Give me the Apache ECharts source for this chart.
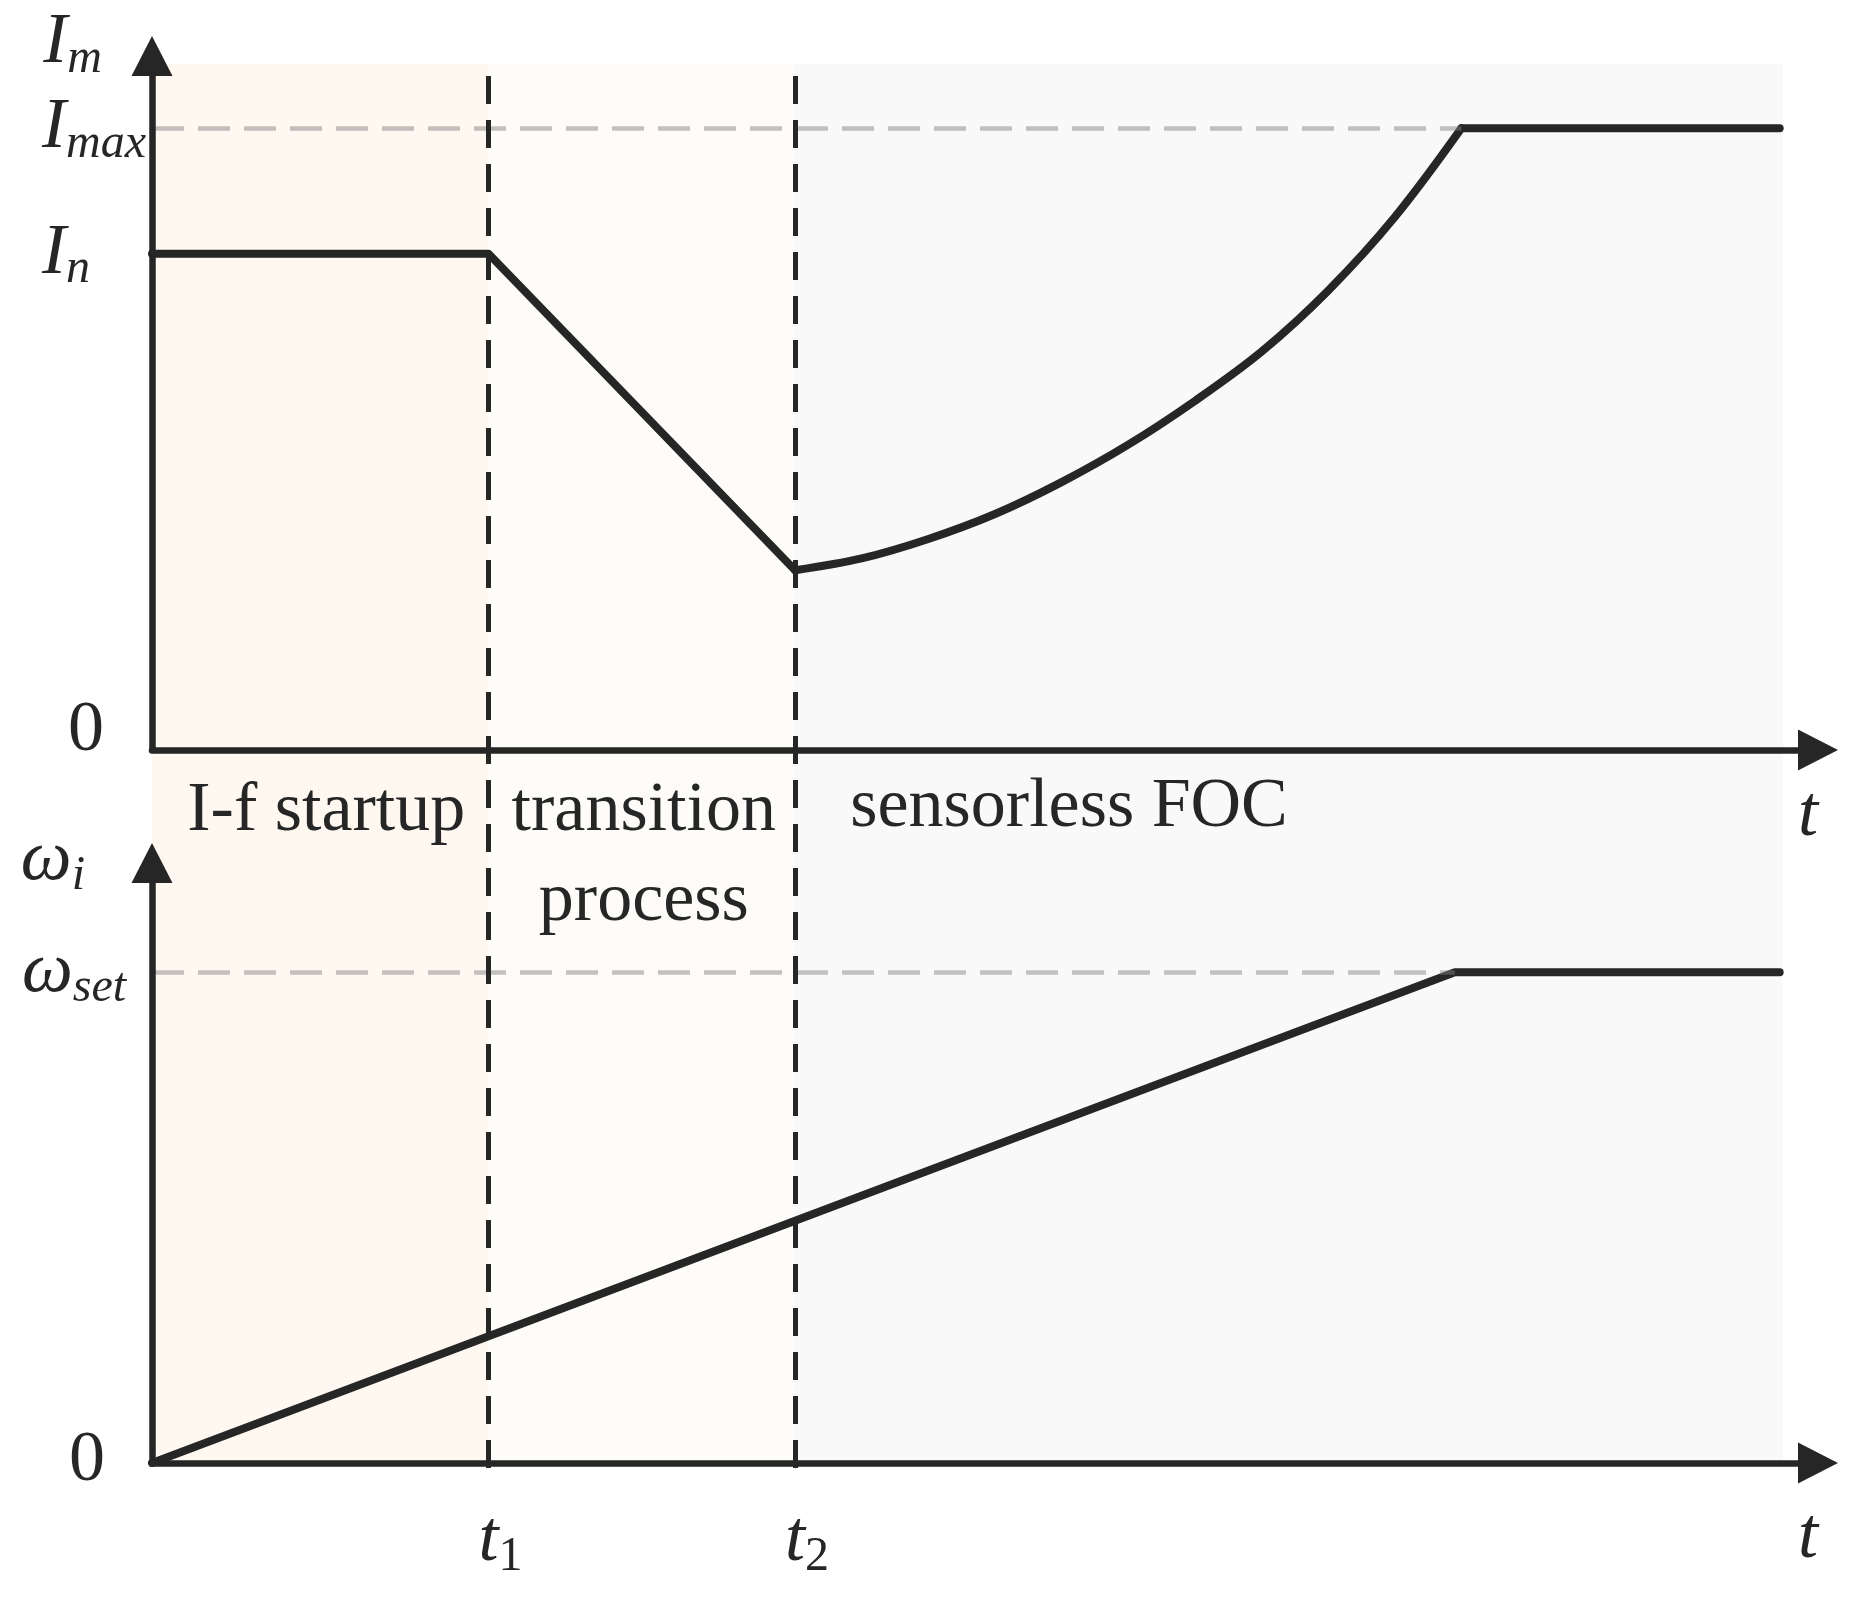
<!DOCTYPE html>
<html>
<head>
<meta charset="utf-8">
<script src="https://cdn.jsdelivr.net/npm/echarts@6/dist/echarts.min.js"></script>
<style>html,body{margin:0;padding:0;background:#fff}#c{width:1856px;height:1598px}</style>
</head>
<body>
<div id="c"></div>
<script>
// ---- data (time in arbitrary units 0..100, values in arbitrary units 0..100) ----
const phaseBounds = [0, 20.2, 38.6, 97.9];              // 0, t1, t2, end of plot
const phaseNames = ['I-f startup', 'transition\nprocess', 'sensorless FOC'];
const phaseColors = ['#FEF8F1', '#FEFCF8', '#F9F9F9'];
const switchTimes = [20.2, 38.6];                        // t1, t2
const switchLabels = ['1', '2'];

// current Im
const currentRampTime  = [0, 20.2, 38.6];
const currentRampValue = [71.5, 71.5, 25.9];
const currentCurveTime  = [38.6, 42.6, 46.6, 50.6, 54.6, 58.6, 62.6, 66.6, 70.6, 74.6, 78.6];
const currentCurveValue = [25.9, 27.6, 30.4, 34.0, 38.6, 44.0, 50.3, 57.4, 66.2, 76.8, 89.6];
const currentHoldTime  = [78.6, 97.7];
const currentHoldValue = [89.6, 89.6];
const currentTickValues = [0, 71.5, 89.6];
const currentTickBase = ['0', 'I', 'I'];
const currentTickSub  = ['', 'n', 'max'];
const I_MAX = 89.6;

// speed omega_i
const speedTime  = [0, 78.2, 97.7];
const speedValue = [0, 81.8, 81.8];
const speedTickValues = [0, 81.8];
const speedTickBase = ['0', 'ω'];
const speedTickSub  = ['', 'set'];
const W_SET = 81.8;

// ---- styling ----
const FONT = "'Liberation Serif', 'Times New Roman', 'DejaVu Serif', serif";
const INK = '#262626';
const richBase = {
  it: {fontFamily: FONT, fontStyle: 'italic', fontSize: 72, lineHeight: 80, color: INK},
  sub: {fontFamily: FONT, fontStyle: 'italic', fontSize: 48, lineHeight: 44, verticalAlign: 'bottom', color: INK},
  num: {fontFamily: FONT, fontSize: 48, lineHeight: 44, verticalAlign: 'bottom', color: INK},
  zeroTop: {fontFamily: FONT, fontSize: 72, lineHeight: 80, padding: [0, 0, 38, 26], color: INK},
  zeroBot: {fontFamily: FONT, fontSize: 72, lineHeight: 80, padding: [0, 0, 4, 47], color: INK},
  tpad: {fontFamily: FONT, fontStyle: 'italic', fontSize: 72, lineHeight: 80, padding: [0, 0, 0, 24], color: INK}
};
function findIdx(arr, v) { return arr.findIndex(a => Math.abs(a - v) < 1e-6); }

const axisLineStyle = {color: INK, width: 6.5, cap: 'round'};
const arrowSize = [41, 40];

function zip(xs, ys) { return xs.map((x, i) => [x, ys[i]]); }
const dataLine = {width: 8, color: INK, cap: 'round', join: 'round'};

const G_LEFT = 152, G_RIGHT = 1818;
const option = {
  backgroundColor: '#ffffff',
  animation: false,
  grid: [
    {left: G_LEFT, width: G_RIGHT - G_LEFT, top: 56, height: 694},
    {left: G_LEFT, width: G_RIGHT - G_LEFT, top: 863, height: 600},
    {left: G_LEFT, width: G_RIGHT - G_LEFT, top: 64, height: 1404}
  ],
  xAxis: [
    {gridIndex: 0, type: 'value', min: 0, max: 100, z: 10,
     axisLine: {show: true, onZero: false, lineStyle: axisLineStyle, symbol: ['none', 'triangle'], symbolSize: arrowSize},
     axisTick: {show: false}, axisLabel: {show: false}, splitLine: {show: false},
     name: 't', nameLocation: 'end', nameGap: -10,
     nameTextStyle: {fontFamily: FONT, fontStyle: 'italic', fontSize: 72, color: INK, align: 'center', verticalAlign: 'top', padding: [30, 0, 0, 0]}},
    {gridIndex: 1, type: 'value', min: 0, max: 100, z: 10,
     axisLine: {show: true, onZero: false, lineStyle: axisLineStyle, symbol: ['none', 'triangle'], symbolSize: arrowSize},
     axisTick: {show: false}, splitLine: {show: false},
     axisLabel: {show: true, customValues: switchTimes, margin: 38, rich: richBase,
       formatter: v => '{tpad|t}{num|' + switchLabels[findIdx(switchTimes, v)] + '}'},
     name: 't', nameLocation: 'end', nameGap: -10,
     nameTextStyle: {fontFamily: FONT, fontStyle: 'italic', fontSize: 72, color: INK, align: 'center', verticalAlign: 'top', padding: [39, 0, 0, 0]}},
    {gridIndex: 2, type: 'value', min: 0, max: 100, show: false}
  ],
  yAxis: [
    {gridIndex: 0, type: 'value', min: 0, max: 100, z: 10,
     axisLine: {show: true, onZero: false, lineStyle: axisLineStyle, symbol: ['none', 'triangle'], symbolSize: arrowSize},
     axisTick: {show: false}, splitLine: {show: false},
     axisLabel: {show: true, customValues: currentTickValues, margin: 110, align: 'left', rich: richBase,
       formatter: v => { const i = findIdx(currentTickValues, v);
         return currentTickBase[i] === '0' ? '{zeroTop|0}' : '{it|' + currentTickBase[i] + '}{sub|' + currentTickSub[i] + '}'; }},
     name: '{it|I}{sub|m}', nameLocation: 'end', nameGap: 13,
     nameTextStyle: {rich: richBase, align: 'right', verticalAlign: 'middle', padding: [0, 50, 0, 0]}},
    {gridIndex: 1, type: 'value', min: 0, max: 100, z: 10,
     axisLine: {show: true, onZero: false, lineStyle: axisLineStyle, symbol: ['none', 'triangle'], symbolSize: arrowSize},
     axisTick: {show: false}, splitLine: {show: false},
     axisLabel: {show: true, customValues: speedTickValues, margin: 130, align: 'left', rich: richBase,
       formatter: v => { const i = findIdx(speedTickValues, v);
         return speedTickBase[i] === '0' ? '{zeroBot|0}' : '{it|' + speedTickBase[i] + '}{sub|' + speedTickSub[i] + '}'; }},
     name: '{it|ω}{sub|i}', nameLocation: 'end', nameGap: 3,
     nameTextStyle: {rich: richBase, align: 'right', verticalAlign: 'middle', padding: [0, 67, 0, 0]}},
    {gridIndex: 2, type: 'value', min: 0, max: 1, show: false}
  ],
  series: [
    // phase backgrounds + phase names
    {type: 'line', xAxisIndex: 2, yAxisIndex: 2, data: [], z: 0, silent: true,
     markArea: {silent: true, data: phaseNames.map((n, i) => [
       {xAxis: phaseBounds[i], yAxis: 0, itemStyle: {color: phaseColors[i]},
        label: {show: true, position: 'insideTop', distance: 0,
                offset: [[6, 2, -220][i], [703, 703, 699][i]],
                formatter: n, fontFamily: FONT, fontSize: 70, lineHeight: 90, color: INK, align: 'center'}},
       {xAxis: phaseBounds[i + 1], yAxis: 1}
     ])}},
    // reference levels Imax / omega_set
    {type: 'line', xAxisIndex: 0, yAxisIndex: 0, data: [], z: 1, silent: true,
     markLine: {silent: true, symbol: 'none', label: {show: false},
       lineStyle: {color: 'rgba(128,128,128,0.47)', width: 4.5, type: [32, 14], cap: 'butt'},
       data: [[{coord: [0, I_MAX]}, {coord: [currentHoldTime[0], I_MAX]}]]}},
    {type: 'line', xAxisIndex: 1, yAxisIndex: 1, data: [], z: 1, silent: true,
     markLine: {silent: true, symbol: 'none', label: {show: false},
       lineStyle: {color: 'rgba(128,128,128,0.47)', width: 4.5, type: [32, 14], cap: 'butt'},
       data: [[{coord: [0, W_SET]}, {coord: [speedTime[1], W_SET]}]]}},
    // vertical switching instants
    {type: 'line', xAxisIndex: 2, yAxisIndex: 2, data: [], z: 2, silent: true,
     markLine: {silent: true, symbol: 'none', label: {show: false},
       lineStyle: {color: INK, width: 5, type: [28, 16], cap: 'butt'},
       data: switchTimes.map(t => ({xAxis: t}))}},
    // current
    {type: 'line', xAxisIndex: 0, yAxisIndex: 0, z: 3, silent: true, symbol: 'none',
     data: zip(currentRampTime, currentRampValue), lineStyle: dataLine},
    {type: 'line', xAxisIndex: 0, yAxisIndex: 0, z: 3, silent: true, symbol: 'none',
     smooth: 0.35,
     data: zip(currentCurveTime, currentCurveValue), lineStyle: dataLine},
    {type: 'line', xAxisIndex: 0, yAxisIndex: 0, z: 3, silent: true, symbol: 'none',
     data: zip(currentHoldTime, currentHoldValue), lineStyle: dataLine},
    // speed
    {type: 'line', xAxisIndex: 1, yAxisIndex: 1, z: 3, silent: true, symbol: 'none',
     data: zip(speedTime, speedValue), lineStyle: dataLine}
  ]
};
const chart = echarts.init(document.getElementById('c'), null, {renderer: 'canvas'});
chart.setOption(option);
</script>
</body>
</html>
